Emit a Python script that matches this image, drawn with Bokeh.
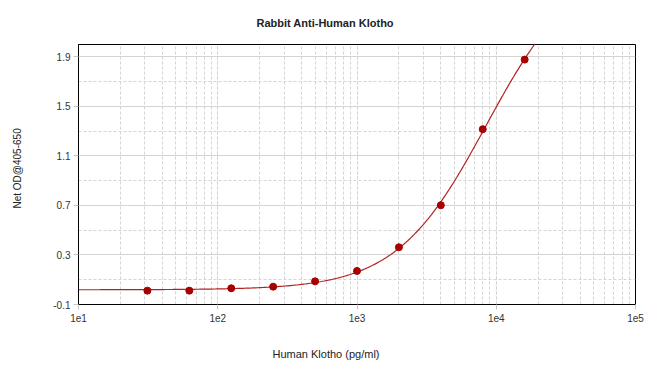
import numpy as np
from bokeh.plotting import figure
from bokeh.models import Range1d, FixedTicker, LogTicker, Title, LinearAxis
from bokeh.embed import file_html
from bokeh.resources import INLINE

# ---- data ----
conc_pg_ml = [31.25, 62.5, 125, 250, 500, 1000, 2000, 4000, 8000, 16000]
net_od = [0.012, 0.012, 0.031, 0.044, 0.087, 0.171, 0.362, 0.702, 1.316, 1.878]

x_ticks = [10, 100, 1000, 10000, 100000]
x_tick_labels = ["1e1", "1e2", "1e3", "1e4", "1e5"]
y_ticks = [-0.1, 0.3, 0.7, 1.1, 1.5, 1.9]
y_tick_labels = ["-0.1", "0.3", "0.7", "1.1", "1.5", "1.9"]
y_minor = [0.1, 0.5, 0.9, 1.3, 1.7]

title_text = "Rabbit Anti-Human Klotho"
x_label = "Human Klotho (pg/ml)"
y_label = "Net OD@405-650"

# ---- 4-parameter logistic least-squares fit of the standards ----
xd = np.array(conc_pg_ml, dtype=float)
yd = np.array(net_od, dtype=float)
Bs = np.linspace(0.6, 2.5, 191)
logCs = np.linspace(3.0, 5.5, 251)
BB, LC = np.meshgrid(Bs, logCs, indexing="ij")
u = (xd[None, None, :] / (10 ** LC[..., None])) ** BB[..., None]
s = u / (1 + u)
a1 = 1 - s
a2 = s
m11 = (a1 * a1).sum(-1); m12 = (a1 * a2).sum(-1); m22 = (a2 * a2).sum(-1)
r1 = (a1 * yd).sum(-1); r2 = (a2 * yd).sum(-1)
det = m11 * m22 - m12 ** 2
A = (m22 * r1 - m12 * r2) / det
D = (m11 * r2 - m12 * r1) / det
pred = A[..., None] * a1 + D[..., None] * a2
sse = ((pred - yd) ** 2).sum(-1)
i, j = np.unravel_index(np.nanargmin(sse), sse.shape)
fA, fD, fB, fC = A[i, j], D[i, j], BB[i, j], 10 ** LC[i, j]

cx = np.logspace(1, 5, 400)
cy = fD + (fA - fD) / (1 + (cx / fC) ** fB)

# ---- figure ----
p = figure(width=650, height=366, x_axis_type="log",
           x_range=Range1d(10, 100000), y_range=Range1d(-0.1, 2.0),
           output_backend="svg", toolbar_location=None, title=None,
           min_border_left=78, min_border_right=15,
           min_border_top=44, min_border_bottom=62)
p.background_fill_color = "white"
p.border_fill_color = "white"
p.outline_line_color = "black"
p.outline_line_width = 1
p.outline_line_alpha = 1.0

p.xaxis.ticker = LogTicker(num_minor_ticks=10)
p.xaxis.major_label_overrides = {t: l for t, l in zip(x_ticks, x_tick_labels)}
p.yaxis.ticker = FixedTicker(ticks=y_ticks, minor_ticks=y_minor)
p.yaxis.major_label_overrides = {t: l for t, l in zip(y_ticks, y_tick_labels)}

for ax in (p.xaxis[0], p.yaxis[0]):
    ax.axis_line_color = "black"
    ax.major_tick_line_color = "#c8c8c8"
    ax.major_tick_out = 5
    ax.major_tick_in = 0
    ax.minor_tick_line_color = None
    ax.major_label_text_font = "Liberation Sans"
    ax.major_label_text_font_size = "10px"
    ax.major_label_text_color = "#333333"
p.xaxis.major_label_standoff = 4
p.yaxis.major_label_standoff = 3

p.xgrid.grid_line_color = "#d4d4d4"
p.xgrid.grid_line_dash = "3 2"
p.xgrid.minor_grid_line_color = "#d4d4d4"
p.xgrid.minor_grid_line_dash = "3 2"
p.ygrid.grid_line_color = "#d4d4d4"
p.ygrid.minor_grid_line_color = "#d4d4d4"
p.ygrid.minor_grid_line_dash = "3 2"

p.line(cx, cy, line_color="#b22222", line_width=1.2)
p.scatter(conc_pg_ml, net_od, size=7, fill_color="#a60000", line_color="#a60000")


def spacer(k, at):
    # a blank axis (one white tick, empty label) that only reserves k pixels of border
    return LinearAxis(ticker=FixedTicker(ticks=[at]), major_label_overrides={at: ""},
                      axis_line_color=None, major_tick_line_color="white",
                      minor_tick_line_color=None, major_tick_out=k, major_tick_in=0,
                      minor_tick_out=0, major_label_standoff=0,
                      major_label_text_font_size="1px")


p.add_layout(spacer(23, 1000), "below")
p.add_layout(spacer(26, 1.0), "left")

p.add_layout(Title(text=title_text, align="left", offset=178, vertical_align="top",
                   standoff=28, text_font="Liberation Sans", text_font_size="11px",
                   text_font_style="bold", text_color="#222222"), "above")
p.add_layout(Title(text=x_label, align="left", offset=194, vertical_align="top",
                   standoff=0, text_font="Liberation Sans", text_font_size="11px",
                   text_font_style="normal", text_color="#222222"), "below")
p.add_layout(Title(text=y_label, align="left", offset=96, vertical_align="top",
                   standoff=0, text_font="Liberation Sans", text_font_size="10px",
                   text_font_style="normal", text_color="#222222"), "left")

open("out.html", "w").write(file_html(p, INLINE))
